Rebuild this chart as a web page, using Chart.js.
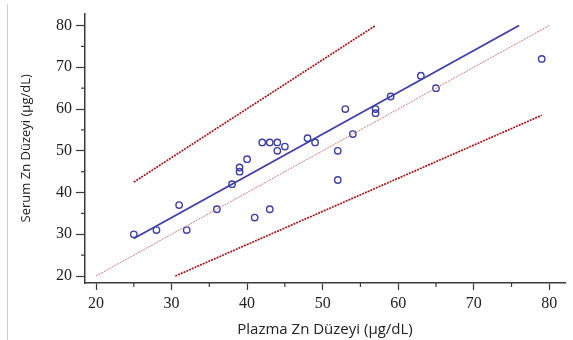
<!DOCTYPE html>
<html>
<head>
<meta charset="utf-8">
<script src="https://cdn.jsdelivr.net/npm/chart.js@4/dist/chart.umd.min.js"></script>
<style>
  html, body { margin: 0; padding: 0; background: #fff; }
  #wrap { position: relative; width: 573px; height: 340px; }
  #edge { position: absolute; left: 7px; top: 4px; width: 1px; height: 336px; background: #cfcfcf; }
</style>
</head>
<body>
<div id="wrap">
  <div id="edge"></div>
  <canvas id="plot" width="573" height="340"></canvas>
</div>
<script>
'use strict';
// ölçümler (plazma / serum Zn)
const plazma = [25, 28, 31, 32, 36, 38, 39, 39, 40, 41, 42, 43, 43, 44, 44, 45, 48, 49, 52, 52, 53, 54, 57, 57, 59, 63, 65, 79];
const serum  = [30, 31, 37, 31, 36, 42, 45, 46, 48, 34, 52, 52, 36, 52, 50, 51, 53, 52, 50, 43, 60, 54, 60, 59, 63, 68, 65, 72];

// çizgilerin uç noktaları
const regX = [25, 76];   const regY = [29, 80];
const idX = [20, 80];    const idY = [20, 80];
const upX = [25, 57];    const upY = [42.5, 80];
const lowX = [30.5, 79]; const lowY = [20, 58.5];

const tickValues = [20, 30, 40, 50, 60, 70, 80];
const minorValues = [25, 35, 45, 55, 65, 75];

const toPts = (xs, ys) => xs.map((x, i) => ({x: x, y: ys[i]}));

const blue = '#3c3fa6';
const darkRed = '#a3161a';
const lightRed = '#d27a7a';
const axisColor = '#3a3a3a';
const serif = 'Times New Roman, serif';

// ara (5'lik) çentikler kısa çizilsin
const minorTicks = {
  id: 'minorTicks',
  afterDraw(chart) {
    const ctx = chart.ctx;
    const xs = chart.scales.x, ys = chart.scales.y;
    ctx.save();
    ctx.strokeStyle = axisColor;
    ctx.lineWidth = 1.2;
    minorValues.forEach(v => {
      const px = xs.getPixelForValue(v);
      ctx.beginPath(); ctx.moveTo(px, xs.top); ctx.lineTo(px, xs.top + 4); ctx.stroke();
      const py = ys.getPixelForValue(v);
      ctx.beginPath(); ctx.moveTo(ys.right - 4, py); ctx.lineTo(ys.right, py); ctx.stroke();
    });
    ctx.restore();
  }
};

const majorOnly = s => { s.ticks = tickValues.map(v => ({value: v})); };

new Chart(document.getElementById('plot').getContext('2d'), {
  type: 'scatter',
  data: {
    datasets: [
      {data: toPts(idX, idY), showLine: true, borderColor: lightRed, borderWidth: 1, borderDash: [2, 1], pointRadius: 0},
      {data: toPts(upX, upY), showLine: true, borderColor: darkRed, borderWidth: 1.7, borderDash: [2, 1], pointRadius: 0},
      {data: toPts(lowX, lowY), showLine: true, borderColor: darkRed, borderWidth: 1.7, borderDash: [2, 1], pointRadius: 0},
      {data: toPts(regX, regY), showLine: true, borderColor: blue, borderWidth: 1.8, pointRadius: 0},
      {data: toPts(plazma, serum), pointRadius: 3.2, pointBorderWidth: 1.4,
       pointBorderColor: blue, pointBackgroundColor: 'rgba(255,255,255,0)'}
    ]
  },
  options: {
    responsive: false,
    animation: false,
    layout: {padding: {left: 8, right: 8, top: 12, bottom: 0}},
    plugins: {legend: {display: false}, tooltip: {enabled: false}},
    scales: {
      x: {
        type: 'linear', min: 18.54, max: 82.08,
        afterBuildTicks: majorOnly,
        afterFit: s => { s.height = 57; },
        border: {color: axisColor, width: 1.5},
        grid: {drawOnChartArea: false, tickLength: 7, tickColor: axisColor, tickWidth: 1.2},
        ticks: {color: '#222', padding: 4, font: {family: serif, size: 16}, maxRotation: 0},
        title: {display: true, text: 'Plazma Zn Düzeyi (µg/dL)', color: '#222',
                font: {family: 'Open Sans', size: 15}, padding: {top: 0, bottom: 1}}
      },
      y: {
        type: 'linear', min: 18.33, max: 82.86,
        afterBuildTicks: majorOnly,
        afterFit: s => { s.width = 77; },
        border: {color: axisColor, width: 1.5},
        grid: {drawOnChartArea: false, tickLength: 9, tickColor: axisColor, tickWidth: 1.2},
        ticks: {color: '#222', padding: 4, font: {family: serif, size: 16}},
        title: {display: true, text: 'Serum Zn Düzeyi (µg/dL)', color: '#222',
                font: {family: 'Open Sans', size: 13}, padding: {top: 10, bottom: 0}}
      }
    }
  },
  plugins: [minorTicks]
});
</script>
</body>
</html>
